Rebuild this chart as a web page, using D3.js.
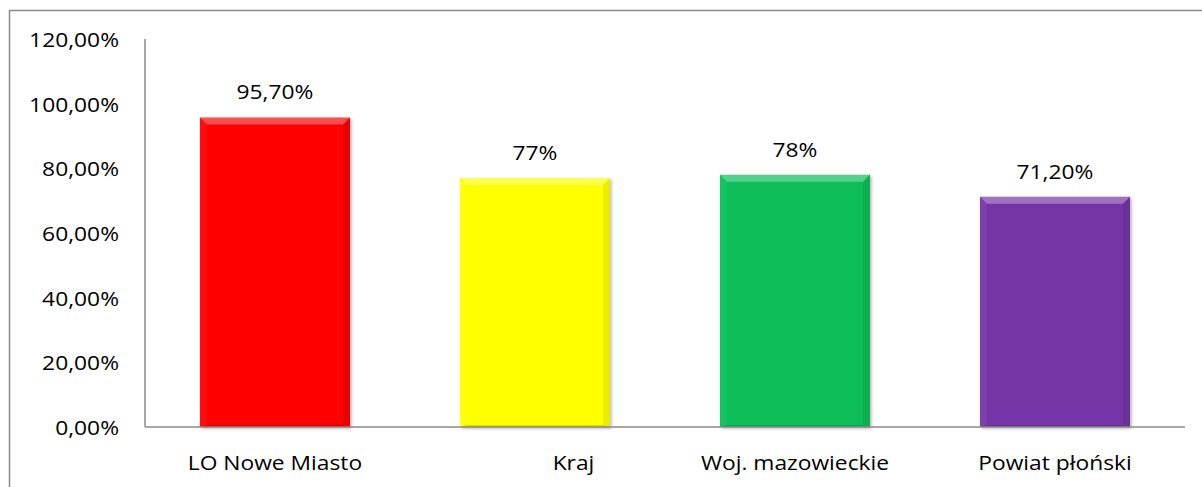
<!DOCTYPE html>
<html>
<head>
<meta charset="utf-8">
<script src="https://cdn.jsdelivr.net/npm/d3@7"></script>
<style>
  body { margin: 0; background: #fff; }
  text { font-family: "Open Sans", sans-serif; fill: #000; white-space: pre; }
</style>
</head>
<body>
<div id="chart"></div>
<script>
// chart data
const categories = ["LO Nowe Miasto", "             Kraj", "Woj. mazowieckie", "Powiat płoński"];
const values = [95.7, 77, 78, 71.2];
const valueLabels = ["95,70%", "77%", "78%", "71,20%"];
const barColors = ["#ff0000", "#ffff00", "#0cbe59", "#7535a6"];
const yTicks = [0, 20, 40, 60, 80, 100, 120];

const W = 1202, H = 487;
const margin = { top: 39, right: 17, bottom: 60, left: 145 };
const width = W - margin.left - margin.right;
const height = H - margin.top - margin.bottom;
const fontSize = 20;
const stretch = 1.14; // text in the picture is a bit wide

const svg = d3.select("#chart").append("svg")
  .attr("width", W)
  .attr("height", H);

// outer frame
svg.append("rect")
  .attr("x", 9.5).attr("y", 10.5)
  .attr("width", W).attr("height", H)
  .attr("fill", "none")
  .attr("stroke", "#8a8a8a")
  .attr("stroke-width", 1.5);

const defs = svg.append("defs");
const shadow = defs.append("filter").attr("id", "shadow")
  .attr("x", "-10%").attr("y", "-10%").attr("width", "120%").attr("height", "120%");
shadow.append("feDropShadow")
  .attr("dx", 1.5).attr("dy", 1.5).attr("stdDeviation", 1.5)
  .attr("flood-color", "#000").attr("flood-opacity", 0.3);

const g = svg.append("g")
  .attr("transform", "translate(" + margin.left + "," + margin.top + ")");

const x = d3.scaleBand()
  .domain(categories)
  .range([0, width])
  .paddingInner(0.423)
  .paddingOuter(0.2115);

const y = d3.scaleLinear()
  .domain([0, 120])
  .range([height, 0]);

// y tick labels
const fmt = d => d3.format(".2f")(d).replace(".", ",") + "%";
g.selectAll(".ytick")
  .data(yTicks)
  .enter().append("text")
  .attr("class", "ytick")
  .attr("text-anchor", "end")
  .attr("dominant-baseline", "central")
  .attr("font-size", fontSize)
  .attr("transform", d => "translate(-26," + y(d) + ") scale(" + stretch + ",1)")
  .text(fmt);

// bars
const bevel = 7;
const bars = g.selectAll(".bar")
  .data(values)
  .enter().append("g")
  .attr("class", "bar")
  .attr("filter", "url(#shadow)");

bars.append("rect")
  .attr("x", (d, i) => x(categories[i]))
  .attr("y", d => y(d))
  .attr("width", x.bandwidth())
  .attr("height", d => height - y(d))
  .attr("fill", (d, i) => barColors[i]);

// bevel facets
function facet(d, i, side) {
  const x0 = x(categories[i]), x1 = x0 + x.bandwidth();
  const y0 = y(d), y1 = height, b = bevel;
  if (side === "top") return [[x0, y0], [x1, y0], [x1 - b, y0 + b], [x0 + b, y0 + b]];
  if (side === "left") return [[x0, y0], [x0 + b, y0 + b], [x0 + b, y1 - 2], [x0, y1]];
  if (side === "right") return [[x1, y0], [x1 - b, y0 + b], [x1 - b, y1 - 2], [x1, y1]];
  return [[x0, y1], [x0 + b, y1 - 2], [x1 - b, y1 - 2], [x1, y1]];
}
const facets = [
  { side: "top", color: "#fff", op: 0.3 },
  { side: "left", color: "#fff", op: 0.05 },
  { side: "right", color: "#000", op: 0.08 },
  { side: "bottom", color: "#000", op: 0.15 }
];
facets.forEach(f => {
  bars.append("polygon")
    .attr("points", (d, i) => facet(d, i, f.side).map(p => p.join(",")).join(" "))
    .attr("fill", f.color)
    .attr("fill-opacity", f.op);
});

// axes lines
g.append("line")
  .attr("x1", 0).attr("x2", 0)
  .attr("y1", y(120)).attr("y2", height)
  .attr("stroke", "#8a8a8a").attr("stroke-width", 1.5);
g.append("line")
  .attr("x1", 0).attr("x2", width)
  .attr("y1", height).attr("y2", height)
  .attr("stroke", "#8a8a8a").attr("stroke-width", 1.5);

// value labels
g.selectAll(".vlabel")
  .data(values)
  .enter().append("text")
  .attr("class", "vlabel")
  .attr("text-anchor", "middle")
  .attr("dominant-baseline", "central")
  .attr("font-size", fontSize)
  .attr("transform", (d, i) => "translate(" + (x(categories[i]) + x.bandwidth() / 2) + "," + (y(d) - 26) + ") scale(" + stretch + ",1)")
  .text((d, i) => valueLabels[i]);

// category labels
g.selectAll(".xlabel")
  .data(categories)
  .enter().append("text")
  .attr("class", "xlabel")
  .attr("text-anchor", "middle")
  .attr("dominant-baseline", "central")
  .attr("font-size", fontSize)
  .attr("transform", d => "translate(" + (x(d) + x.bandwidth() / 2) + "," + (height + 35) + ") scale(" + stretch + ",1)")
  .text(d => d);
</script>
</body>
</html>
